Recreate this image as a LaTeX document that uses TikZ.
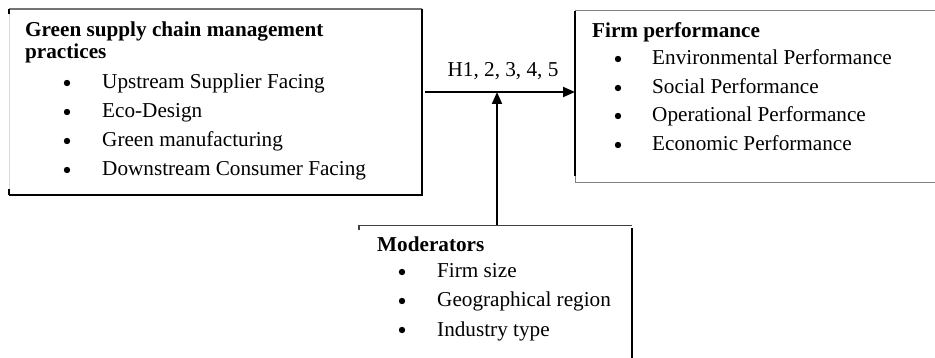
\documentclass[tikz,border=0pt]{standalone}
\usepackage{fontspec}
\setmainfont{Liberation Serif}
\usetikzlibrary{arrows.meta}
\begin{document}
\begin{tikzpicture}[x=1pt,y=-1pt,
  txt/.style={anchor=base west, inner sep=0pt, font=\fontsize{21.2}{25}\selectfont},
  head/.style={anchor=base west, inner sep=0pt, font=\fontsize{21.2}{25}\selectfont\bfseries},
  frame/.style={inner sep=0pt, outer sep=0pt, anchor=north west},
  conn/.style={line width=2pt, -{Triangle[length=12pt,width=10pt]}},
  bul/.style={radius=3.2pt},
]
\useasboundingbox (0,0) rectangle (935,358);

% box frames
\node[frame, minimum width=413pt, minimum height=186pt] (gscm) at (9,9) {};
\node[frame, minimum width=362pt, minimum height=172pt] (perf) at (575,11) {};
\node[frame, minimum width=273pt, minimum height=140pt] (mod) at (359,225.5) {};

% left box outline
\draw[black!55, line width=1.2pt] (gscm.north west) -- (gscm.north east);
\draw[black!15, line width=0.8pt] (gscm.north west) -- (gscm.south west);
\draw[line width=1.3pt] (gscm.south west) -- (gscm.south east) -- (gscm.north east);
\draw[line width=1.2pt] (gscm.north west) -- ([yshift=-5pt]gscm.north west);
\draw[line width=1.2pt] (gscm.south west) -- ([yshift=6pt]gscm.south west);

% right box outline
\draw[black!50, line width=1pt] (perf.north west) -- (perf.north east);
\draw[black!50, line width=1pt] (perf.south west) -- (perf.south east);
\draw[line width=2pt] (perf.north west) -- ([yshift=7pt]perf.south west);
\draw[black!50, line width=0.8pt] ([yshift=7pt]perf.south west) -- (perf.south west);

% moderators box outline
\draw[black!75, line width=1.2pt] ([yshift=-5pt]mod.north west) -- (mod.north west) -- (mod.north east);
\draw[line width=2pt] ([yshift=-3pt]mod.north east) -- (mod.south east);

% left box text
\node[head] (g1) at (25,37) {Green supply chain management};
\node[head] (g2) at (25,59) {practices};
\node[txt] (g3) at (102,89) {Upstream Supplier Facing};
\node[txt] (g4) at (102,118) {Eco-Design};
\node[txt] (g5) at (102,147) {Green manufacturing};
\node[txt] (g6) at (102,176) {Downstream Consumer Facing};
\foreach \y in {89,118,147,176} \fill (67,\y-6) circle[bul];

% right box text
\node[head] (p1) at (592,38) {Firm performance};
\node[txt] (p2) at (652,65) {Environmental Performance};
\node[txt] (p3) at (652,94) {Social Performance};
\node[txt] (p4) at (652,122) {Operational Performance};
\node[txt] (p5) at (652,151) {Economic Performance};
\foreach \y in {65,94,122,151} \fill (618,\y-6) circle[bul];

% moderators text
\node[head] (m1) at (377,252) {Moderators};
\node[txt] (m2) at (437,278) {Firm size};
\node[txt] (m3) at (437,307) {Geographical region};
\node[txt] (m4) at (437,336) {Industry type};
\foreach \y in {278,307,336} \fill (402,\y-6) circle[bul];

% connectors
\coordinate (j) at (497,92);
\path (gscm.east |- j) ++(3,0) coordinate (hs);
\node[txt, anchor=base] (hlab) at (503,77) {H1, 2, 3, 4, 5};
\draw[conn] (hs) -- (perf.west |- j);
\draw[conn] (mod.north -| j) -- (j);
\end{tikzpicture}
\end{document}
